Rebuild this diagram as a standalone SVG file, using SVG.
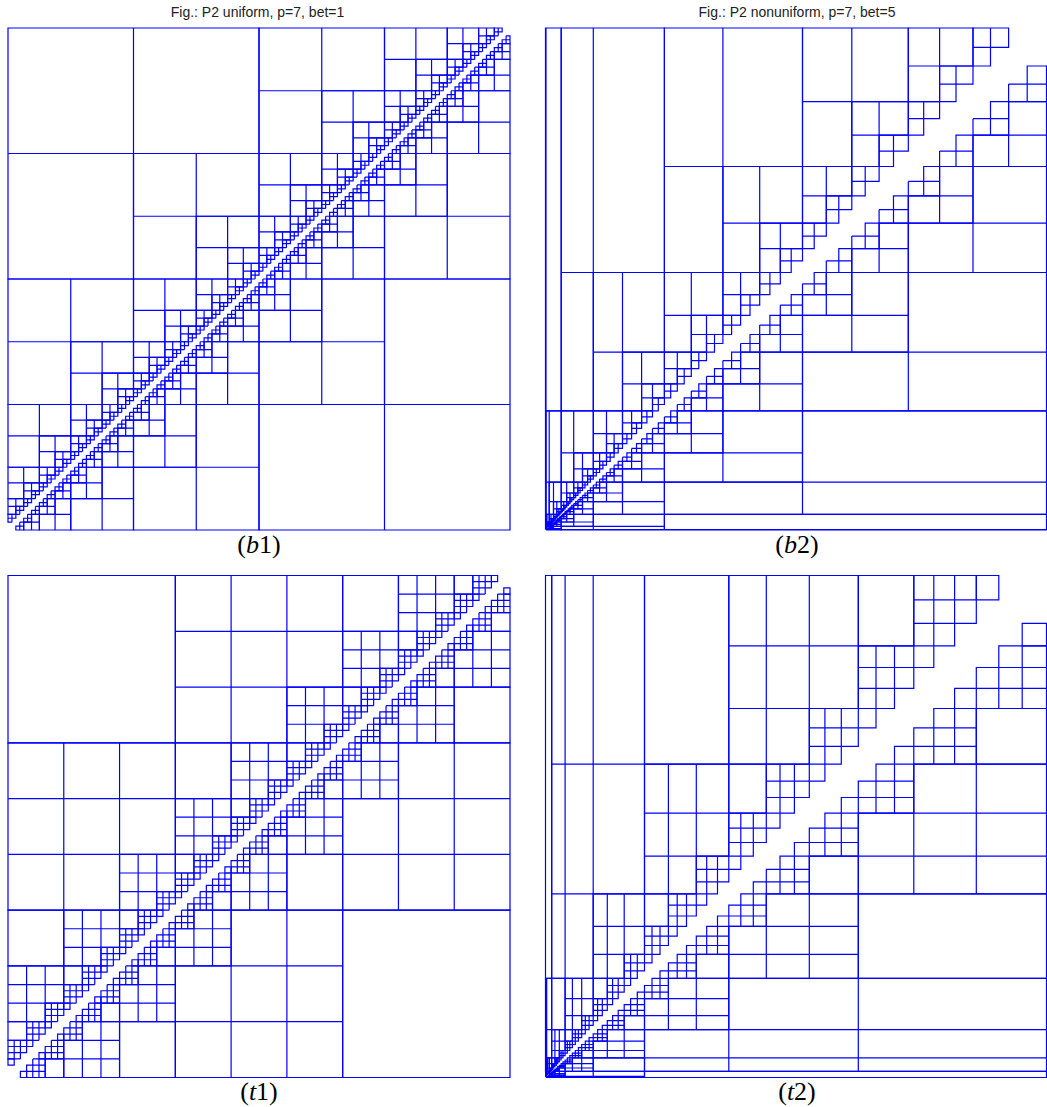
<svg xmlns="http://www.w3.org/2000/svg" width="1047" height="1107" viewBox="0 0 1047 1107">
<style>
.ln{fill:none;stroke:#0000ff;stroke-width:1.2}
.tt{font-family:"Liberation Sans",Arial,sans-serif;font-size:14px;fill:#222}
.lb{font-family:"Liberation Serif","Times New Roman",serif;font-size:26px;fill:#000}
</style>
<defs>
<path id="bL" d="M0 0H1V.5H0ZM.5 0V1M0 .5V1H.5" fill="none" stroke="#0000ff" stroke-width="1.2" vector-effect="non-scaling-stroke"/>
<g id="bO1"><use href="#bL" transform="scale(2)"/></g>
<g id="bO2"><use href="#bL" transform="scale(4)"/><use href="#bO1" transform="translate(2,2)"/></g>
<g id="bO3"><use href="#bL" transform="scale(8)"/><use href="#bO2" transform="translate(4,4)"/></g>
<g id="bO4"><use href="#bL" transform="scale(16)"/><use href="#bO3" transform="translate(8,8)"/></g>
<g id="bO5"><use href="#bL" transform="scale(32)"/><use href="#bO4" transform="translate(16,16)"/></g>
<g id="bO6"><use href="#bL" transform="scale(64)"/><use href="#bO5" transform="translate(32,32)"/></g>
<g id="bD2"><use href="#bO1"/><use href="#bO1" transform="translate(4,4) scale(-1)"/></g>
<g id="bD3"><use href="#bO2"/><use href="#bO2" transform="translate(8,8) scale(-1)"/><use href="#bD2" transform="translate(4,0)"/><use href="#bD2" transform="translate(0,4)"/></g>
<g id="bD4"><use href="#bO3"/><use href="#bO3" transform="translate(16,16) scale(-1)"/><use href="#bD3" transform="translate(8,0)"/><use href="#bD3" transform="translate(0,8)"/></g>
<g id="bD5"><use href="#bO4"/><use href="#bO4" transform="translate(32,32) scale(-1)"/><use href="#bD4" transform="translate(16,0)"/><use href="#bD4" transform="translate(0,16)"/></g>
<g id="bD6"><use href="#bO5"/><use href="#bO5" transform="translate(64,64) scale(-1)"/><use href="#bD5" transform="translate(32,0)"/><use href="#bD5" transform="translate(0,32)"/></g>
<g id="bD7"><use href="#bO6"/><use href="#bO6" transform="translate(128,128) scale(-1)"/><use href="#bD6" transform="translate(64,0)"/><use href="#bD6" transform="translate(0,64)"/></g>
<path id="tG" d="M0 0H3V2H0ZM0 1H3M1 0V3M2 0V3M0 2V3H2" fill="none" stroke="#0000ff" stroke-width="1.2" vector-effect="non-scaling-stroke"/>
<path id="tQ" d="M0 0H1V1H0Z" fill="none" stroke="#0000ff" stroke-width="1.2" vector-effect="non-scaling-stroke"/>
<g id="tO1"><use href="#tG"/></g>
<g id="tO2"><use href="#tG" transform="scale(3)"/><use href="#tO1" transform="translate(6,6)"/></g>
<g id="tO3"><use href="#tG" transform="scale(9)"/><use href="#tO2" transform="translate(18,18)"/></g>
<g id="tD1"><use href="#tQ"/><use href="#tQ" transform="translate(2,2)"/></g>
<g id="tD2"><use href="#tQ" transform="scale(3)"/><use href="#tQ" transform="translate(6,6) scale(3)"/><use href="#tO1" transform="translate(0,3)"/><use href="#tO1" transform="translate(3,0)"/><use href="#tO1" transform="translate(6,9) scale(-1)"/><use href="#tO1" transform="translate(9,6) scale(-1)"/><use href="#tD1" transform="translate(0,6)"/><use href="#tD1" transform="translate(3,3)"/><use href="#tD1" transform="translate(6,0)"/></g>
<g id="tD3"><use href="#tQ" transform="scale(9)"/><use href="#tQ" transform="translate(18,18) scale(9)"/><use href="#tO2" transform="translate(0,9)"/><use href="#tO2" transform="translate(9,0)"/><use href="#tO2" transform="translate(18,27) scale(-1)"/><use href="#tO2" transform="translate(27,18) scale(-1)"/><use href="#tD2" transform="translate(0,18)"/><use href="#tD2" transform="translate(9,9)"/><use href="#tD2" transform="translate(18,0)"/></g>
<g id="tD4"><use href="#tQ" transform="scale(27)"/><use href="#tQ" transform="translate(54,54) scale(27)"/><use href="#tO3" transform="translate(0,27)"/><use href="#tO3" transform="translate(27,0)"/><use href="#tO3" transform="translate(54,81) scale(-1)"/><use href="#tO3" transform="translate(81,54) scale(-1)"/><use href="#tD3" transform="translate(0,54)"/><use href="#tD3" transform="translate(27,27)"/><use href="#tD3" transform="translate(54,0)"/></g>
</defs>
<rect width="1047" height="1107" fill="#fff"/>

<g id="titles">
<text class="tt" x="257.5" y="17" text-anchor="middle">Fig.: P2 uniform, p=7, bet=1</text>
<text class="tt" x="797" y="17" text-anchor="middle">Fig.: P2 nonuniform, p=7, bet=5</text>
</g>

<g id="panel-b1"><use href="#bD7" transform="translate(8,28) scale(3.921875)"/></g>

<g id="panel-t1"><use href="#tD4" transform="translate(8,575.5) scale(6.197531)"/></g>

<g id="panel-b2" class="ln">
<rect x="545.5" y="525" width="4.6" height="5" fill="#0000ff" stroke="none"/>
<path d="M545.9 529.7L550.3 525.3" stroke="#fff" stroke-width=".7"/>
<path d="M545.5 514.3V28H561.2V410.9H545.5M546 28V514.3H545.5M561.2 529.5V530H1046.5V514.3H664.4V530M561.2 529.5H1046.5"/>
<path d="M545.5 529.5V514.3H546V526.3H545.5M546 530H561.2V529.5H549.2V530M546 514.3V410.9H561.2V482.1H546M549.2 410.9V514.3H546M561.2 526.3V529.5H664.4V514.3H593.3V529.5M561.2 526.3H664.4M561.2 410.9V28H664.4V272.5H561.2M593.3 28V410.9H561.2M664.4 482.1V514.3H1046.5V410.9H802.5V514.3M664.4 482.1H1046.5"/>
<path d="M546 526.3V514.3H549.2V522H546M547 514.3V526.3H546M549.2 528.5V529.5H561.2V526.3H553.5V529.5M549.2 528.5H561.2M549.2 514.3V482.1H561.2V501.7H549.2M553.5 482.1V514.3H549.2M561.2 522V526.3H593.3V514.3H573.7V526.3M561.2 522H593.3M561.2 482.1V410.9H593.3V452.9H561.2M573.7 410.9V482.1H561.2M593.3 501.7V514.3H664.4V482.1H622.5V514.3M593.3 501.7H664.4M593.3 410.9V272.5H664.4V352.2H593.3M622.5 272.5V410.9H593.3M664.4 452.9V482.1H802.5V410.9H722.9V482.1M664.4 452.9H802.5M664.4 272.5V28H802.5V166.5H664.4M722.9 28V272.5H664.4M802.5 352.2V410.9H1046.5V272.5H908.3V410.9M802.5 352.2H1046.5"/>
<path d="M546 528.5V526.3H547V527.6H546M546.4 526.3V528.5H546M547 529.1V529.5H549.2V528.5H547.9V529.5M547 529.1H549.2M547 526.3V522H549.2V524.4H547M547.9 522V526.3H547M549.2 527.6V528.5H553.5V526.3H551V528.5M549.2 527.6H553.5M549.2 522V514.3H553.5V518.6H549.2M551 514.3V522H549.2M553.5 524.4V526.3H561.2V522H556.8V526.3M553.5 524.4H561.2M553.5 514.3V501.7H561.2V508.8H553.5M556.8 501.7V514.3H553.5M561.2 518.6V522H573.7V514.3H566.7V522M561.2 518.6H573.7M561.2 501.7V482.1H573.7V493H561.2M566.7 482.1V501.7H561.2M573.7 508.8V514.3H593.3V501.7H582.5V514.3M573.7 508.8H593.3M573.7 482.1V452.9H593.3V468.9H573.7M582.5 452.9V482.1H573.7M593.3 493V501.7H622.5V482.1H606.5V501.7M593.3 493H622.5M593.3 452.9V410.9H622.5V433.7H593.3M606.5 410.9V452.9H593.3M622.5 468.9V482.1H664.4V452.9H641.6V482.1M622.5 468.9H664.4M622.5 410.9V352.2H664.4V383.9H622.5M641.6 352.2V410.9H622.5M664.4 433.7V452.9H722.9V410.9H691.3V452.9M664.4 433.7H722.9M664.4 352.2V272.5H722.9V315.3H664.4M691.3 272.5V352.2H664.4M722.9 383.9V410.9H802.5V352.2H759.7V410.9M722.9 383.9H802.5M722.9 272.5V166.5H802.5V223.1H722.9M759.7 166.5V272.5H722.9M802.5 315.3V352.2H908.3V272.5H851.8V352.2M802.5 315.3H908.3M802.5 166.5V28H908.3V101.7H802.5M851.8 28V166.5H802.5M908.3 223.1V272.5H1046.5V166.5H973V272.5M908.3 223.1H1046.5"/>
<path d="M547.9 526.3V524.4H549.2V525.4H547.9M548.5 524.4V526.3H547.9M549.2 527V527.6H551V526.3H550.1V527.6M549.2 527H551M549.2 524.4V522H551V523.3H549.2M550.1 522V524.4H549.2M551 525.4V526.3H553.5V524.4H552.2V526.3M551 525.4H553.5M551 522V518.6H553.5V520.4H551M552.2 518.6V522H551M553.5 523.3V524.4H556.8V522H555.1V524.4M553.5 523.3H556.8M553.5 518.6V514.3H556.8V516.6H553.5M555.1 514.3V518.6H553.5M556.8 520.4V522H561.2V518.6H558.9V522M556.8 520.4H561.2M556.8 514.3V508.8H561.2V511.7H556.8M558.9 508.8V514.3H556.8M561.2 516.6V518.6H566.7V514.3H563.8V518.6M561.2 516.6H566.7M561.2 508.8V501.7H566.7V505.4H561.2M563.8 501.7V508.8H561.2M566.7 511.7V514.3H573.7V508.8H570V514.3M566.7 511.7H573.7M566.7 501.7V493H573.7V497.6H566.7M570 493V501.7H566.7M573.7 505.4V508.8H582.5V501.7H577.9V508.8M573.7 505.4H582.5M573.7 493V482.1H582.5V487.8H573.7M577.9 482.1V493H573.7M582.5 497.6V501.7H593.3V493H587.6V501.7M582.5 497.6H593.3M582.5 482.1V468.9H593.3V475.8H582.5M587.6 468.9V482.1H582.5M593.3 487.8V493H606.5V482.1H599.6V493M593.3 487.8H606.5M593.3 468.9V452.9H606.5V461.3H593.3M599.6 452.9V468.9H593.3M606.5 475.8V482.1H622.5V468.9H614.1V482.1M606.5 475.8H622.5M606.5 452.9V433.7H622.5V443.7H606.5M614.1 433.7V452.9H606.5M622.5 461.3V468.9H641.6V452.9H631.6V468.9M622.5 461.3H641.6M622.5 433.7V410.9H641.6V422.8H622.5M631.6 410.9V433.7H622.5M641.6 443.7V452.9H664.4V433.7H652.5V452.9M641.6 443.7H664.4M641.6 410.9V383.9H664.4V397.9H641.6M652.5 383.9V410.9H641.6M664.4 422.8V433.7H691.3V410.9H677.3V433.7M664.4 422.8H691.3M664.4 383.9V352.2H691.3V368.7H664.4M677.3 352.2V383.9H664.4M691.3 397.9V410.9H722.9V383.9H706.5V410.9M691.3 397.9H722.9M691.3 352.2V315.3H722.9V334.5H691.3M706.5 315.3V352.2H691.3M722.9 368.7V383.9H759.7V352.2H740.6V383.9M722.9 368.7H759.7M722.9 315.3V272.5H759.7V294.7H722.9M740.6 272.5V315.3H722.9M759.7 334.5V352.2H802.5V315.3H780.3V352.2M759.7 334.5H802.5M759.7 272.5V223.1H802.5V248.7H759.7M780.3 223.1V272.5H759.7M802.5 294.7V315.3H851.8V272.5H826.3V315.3M802.5 294.7H851.8M802.5 223.1V166.5H851.8V195.8H802.5M826.3 166.5V223.1H802.5M851.8 248.7V272.5H908.3V223.1H879.1V272.5M851.8 248.7H908.3M851.8 166.5V101.7H908.3V135.1H851.8M879.1 101.7V166.5H851.8M908.3 195.8V223.1H973V166.5H939.6V223.1M908.3 195.8H973M908.3 101.7V28H973V66H908.3M939.6 28V101.7H908.3M973 135.1V166.5H1046.5V101.7H1008.6V166.5M973 135.1H1046.5"/>
<path d="M549.2 525.4V524.4H550.1V525H549.2M549.6 524.4V525.4H549.2M550.1 524.4V523.3H551V523.9H550.1M550.5 523.3V524.4H550.1M551 523.3V522H552.2V522.6H551M551.6 522V523.3H551M552.2 522V520.4H553.5V521.2H552.2M552.8 520.4V522H552.2M553.5 520.4V518.6H555.1V519.6H553.5M554.3 518.6V520.4H553.5M555.1 518.6V516.6H556.8V517.7H555.1M555.9 516.6V518.6H555.1M556.8 516.6V514.3H558.9V515.5H556.8M557.8 514.3V516.6H556.8M558.9 514.3V511.7H561.2V513H558.9M560 511.7V514.3H558.9M561.2 511.7V508.8H563.8V510.3H561.2M562.4 508.8V511.7H561.2M563.8 508.8V505.4H566.7V507.1H563.8M565.2 505.4V508.8H563.8M566.7 505.4V501.7H570V503.6H566.7M568.3 501.7V505.4H566.7M570 501.7V497.6H573.7V499.7H570M571.8 497.6V501.7H570M573.7 497.6V493H577.9V495.3H573.7M575.7 493V497.6H573.7M577.9 493V487.8H582.5V490.5H577.9M580.1 487.8V493H577.9M582.5 487.8V482.1H587.6V485H582.5M585 482.1V487.8H582.5M587.6 482.1V475.8H593.3V479.1H587.6M590.4 475.8V482.1H587.6M593.3 475.8V468.9H599.6V472.5H593.3M596.3 468.9V475.8H593.3M599.6 468.9V461.3H606.5V465.2H599.6M602.9 461.3V468.9H599.6M606.5 461.3V452.9H614.1V457.2H606.5M610.2 452.9V461.3H606.5M614.1 452.9V443.7H622.5V448.4H614.1M618.2 443.7V452.9H614.1M622.5 443.7V433.7H631.6V438.8H622.5M626.9 433.7V443.7H622.5M631.6 433.7V422.8H641.6V428.4H631.6M636.5 422.8V433.7H631.6M641.6 422.8V410.9H652.5V416.9H641.6M646.9 410.9V422.8H641.6M652.5 410.9V397.9H664.4V404.5H652.5M658.3 397.9V410.9H652.5M664.4 397.9V383.9H677.3V391.1H664.4M670.7 383.9V397.9H664.4M677.3 383.9V368.7H691.3V376.4H677.3M684.2 368.7V383.9H677.3M691.3 368.7V352.2H706.5V360.6H691.3M698.8 352.2V368.7H691.3M706.5 352.2V334.5H722.9V343.5H706.5M714.5 334.5V352.2H706.5M722.9 334.5V315.3H740.6V325.1H722.9M731.6 315.3V334.5H722.9M740.6 315.3V294.7H759.7V305.2H740.6M750 294.7V315.3H740.6M759.7 294.7V272.5H780.3V283.8H759.7M769.9 272.5V294.7H759.7M780.3 272.5V248.7H802.5V260.8H780.3M791.2 248.7V272.5H780.3M802.5 248.7V223.1H826.3V236.1H802.5M814.2 223.1V248.7H802.5M826.3 223.1V195.8H851.8V209.7H826.3M838.8 195.8V223.1H826.3M851.8 195.8V166.5H879.1V181.4H851.8M865.2 166.5V195.8H851.8M879.1 166.5V135.1H908.3V151.1H879.1M893.5 135.1V166.5H879.1M908.3 135.1V101.7H939.6V118.7H908.3M923.7 101.7V135.1H908.3M939.6 101.7V66H973V84.1H939.6M956 66V101.7H939.6M973 66V28H1008.6V47.3H973M990.5 28V66H973"/>
<path d="M550.1 525.9V526.3H551V525.4H550.5V526.3M550.1 525.9H551M551 525V525.4H552.2V524.4H551.6V525.4M551 525H552.2M552.2 523.9V524.4H553.5V523.3H552.8V524.4M552.2 523.9H553.5M553.5 522.6V523.3H555.1V522H554.3V523.3M553.5 522.6H555.1M555.1 521.2V522H556.8V520.4H555.9V522M555.1 521.2H556.8M556.8 519.6V520.4H558.9V518.6H557.8V520.4M556.8 519.6H558.9M558.9 517.7V518.6H561.2V516.6H560V518.6M558.9 517.7H561.2M561.2 515.5V516.6H563.8V514.3H562.4V516.6M561.2 515.5H563.8M563.8 513V514.3H566.7V511.7H565.2V514.3M563.8 513H566.7M566.7 510.3V511.7H570V508.8H568.3V511.7M566.7 510.3H570M570 507.1V508.8H573.7V505.4H571.8V508.8M570 507.1H573.7M573.7 503.6V505.4H577.9V501.7H575.7V505.4M573.7 503.6H577.9M577.9 499.7V501.7H582.5V497.6H580.1V501.7M577.9 499.7H582.5M582.5 495.3V497.6H587.6V493H585V497.6M582.5 495.3H587.6M587.6 490.5V493H593.3V487.8H590.4V493M587.6 490.5H593.3M593.3 485V487.8H599.6V482.1H596.3V487.8M593.3 485H599.6M599.6 479.1V482.1H606.5V475.8H602.9V482.1M599.6 479.1H606.5M606.5 472.5V475.8H614.1V468.9H610.2V475.8M606.5 472.5H614.1M614.1 465.2V468.9H622.5V461.3H618.2V468.9M614.1 465.2H622.5M622.5 457.2V461.3H631.6V452.9H626.9V461.3M622.5 457.2H631.6M631.6 448.4V452.9H641.6V443.7H636.5V452.9M631.6 448.4H641.6M641.6 438.8V443.7H652.5V433.7H646.9V443.7M641.6 438.8H652.5M652.5 428.4V433.7H664.4V422.8H658.3V433.7M652.5 428.4H664.4M664.4 416.9V422.8H677.3V410.9H670.7V422.8M664.4 416.9H677.3M677.3 404.5V410.9H691.3V397.9H684.2V410.9M677.3 404.5H691.3M691.3 391.1V397.9H706.5V383.9H698.8V397.9M691.3 391.1H706.5M706.5 376.4V383.9H722.9V368.7H714.5V383.9M706.5 376.4H722.9M722.9 360.6V368.7H740.6V352.2H731.6V368.7M722.9 360.6H740.6M740.6 343.5V352.2H759.7V334.5H750V352.2M740.6 343.5H759.7M759.7 325.1V334.5H780.3V315.3H769.9V334.5M759.7 325.1H780.3M780.3 305.2V315.3H802.5V294.7H791.2V315.3M780.3 305.2H802.5M802.5 283.8V294.7H826.3V272.5H814.2V294.7M802.5 283.8H826.3M826.3 260.8V272.5H851.8V248.7H838.8V272.5M826.3 260.8H851.8M851.8 236.1V248.7H879.1V223.1H865.2V248.7M851.8 236.1H879.1M879.1 209.7V223.1H908.3V195.8H893.5V223.1M879.1 209.7H908.3M908.3 181.4V195.8H939.6V166.5H923.7V195.8M908.3 181.4H939.6M939.6 151.1V166.5H973V135.1H956V166.5M939.6 151.1H973M973 118.7V135.1H1008.6V101.7H990.5V135.1M973 118.7H1008.6M1008.6 84.1V101.7H1046.5V66H1027.2V101.7M1008.6 84.1H1046.5"/>
</g>

<g id="panel-t2" class="ln">
<rect x="545.5" y="1072.5" width="5" height="5" fill="#0000ff" stroke="none"/>
<path d="M545.9 1077.1L550.6 1072.4" stroke="#fff" stroke-width=".7"/>
<path d="M545.5 575.5H551.7V978.3H545.5ZM644.5 1071.3H1046.5V1077.5H644.5Z"/>
<path d="M551.7 978.3H565.1V1029.7H551.7ZM593.2 1057.9H644.5V1071.3H593.2ZM644.5 575.5H728.8V764.1H644.5ZM858.3 893.8H1046.5V978.3H858.3Z"/>
<path d="M545.5 1057.9H551.7V978.3H545.5V1071.3H546.7V978.3M545.6 978.3V1071.3M545.5 1029.7H551.7M565.1 1077.5V1071.3H644.5V1077.5H551.7V1076.3H644.5M644.5 1077.4H551.7M593.2 1077.5V1071.3M551.7 893.8H644.5V575.5H551.7V978.3H593.2V575.5M565.1 575.5V978.3M551.7 764.1H644.5M728.8 1071.3V978.3H1046.5V1071.3H644.5V1029.7H1046.5M1046.5 1057.9H644.5M858.3 1071.3V978.3"/>
<path d="M551.7 1057.9H554.9V1063.7H551.7ZM559.3 1068H565.1V1071.3H559.3ZM565.1 1029.7H572.4V1041.2H565.1ZM581.7 1050.5H593.2V1057.9H581.7ZM593.2 978.3H607.3V998.6H593.2ZM624.2 1015.6H644.5V1029.7H624.2ZM644.5 893.8H668.4V926.4H644.5ZM696.3 954.4H728.8V978.3H696.3ZM728.8 764.1H766.3V813.2H728.8ZM809.3 856.2H858.3V893.8H809.3ZM858.3 575.5H913.8V645.8H858.3ZM976.3 708.5H1046.5V764.1H976.3Z"/>
<path d="M545.6 1075.2H546.7V1071.3H545.6V1076.3H546.1V1071.3M545.7 1071.3V1076.3M545.6 1073.6H546.7M547.8 1077.4V1076.3H551.7V1077.4H546.7V1076.9H551.7M551.7 1077.3H546.7M549.4 1077.4V1076.3M546.7 1068H551.7V1057.9H546.7V1071.3H549.4V1057.9M547.8 1057.9V1071.3M546.7 1063.7H551.7M554.9 1076.3V1071.3H565.1V1076.3H551.7V1073.6H565.1M565.1 1075.2H551.7M559.3 1076.3V1071.3M551.7 1050.5H565.1V1029.7H551.7V1057.9H559.3V1029.7M554.9 1029.7V1057.9M551.7 1041.2H565.1M572.4 1071.3V1057.9H593.2V1071.3H565.1V1063.7H593.2M593.2 1068H565.1M581.7 1071.3V1057.9M565.1 1015.6H593.2V978.3H565.1V1029.7H581.7V978.3M572.4 978.3V1029.7M565.1 998.6H593.2M607.3 1057.9V1029.7H644.5V1057.9H593.2V1041.2H644.5M644.5 1050.5H593.2M624.2 1057.9V1029.7M593.2 954.4H644.5V893.8H593.2V978.3H624.2V893.8M607.3 893.8V978.3M593.2 926.4H644.5M668.4 1029.7V978.3H728.8V1029.7H644.5V998.6H728.8M728.8 1015.6H644.5M696.3 1029.7V978.3M644.5 856.2H728.8V764.1H644.5V893.8H696.3V764.1M668.4 764.1V893.8M644.5 813.2H728.8M766.3 978.3V893.8H858.3V978.3H728.8V926.4H858.3M858.3 954.4H728.8M809.3 978.3V893.8M728.8 708.5H858.3V575.5H728.8V764.1H809.3V575.5M766.3 575.5V764.1M728.8 645.8H858.3M913.8 893.8V764.1H1046.5V893.8H858.3V813.2H1046.5M1046.5 856.2H858.3M976.3 893.8V764.1"/>
<path d="M547.8 1073H549.4V1071.3H547.8V1073.6H548.8V1071.3M548.2 1071.3V1073.6M547.8 1072.2H549.4M550.1 1075.2V1073.6H551.7V1075.2H549.4V1074.2H551.7M551.7 1074.8H549.4M550.8 1075.2V1073.6M549.4 1070.3H551.7V1068H549.4V1071.3H550.8V1068M550.1 1068V1071.3M549.4 1069.3H551.7M552.7 1073.6V1071.3H554.9V1073.6H551.7V1072.2H554.9M554.9 1073H551.7M553.7 1073.6V1071.3M551.7 1066.7H554.9V1063.7H551.7V1068H553.7V1063.7M552.7 1063.7V1068M551.7 1065.3H554.9M556.3 1071.3V1068H559.3V1071.3H554.9V1069.3H559.3M559.3 1070.3H554.9M557.7 1071.3V1068M554.9 1061.9H559.3V1057.9H554.9V1063.7H557.7V1057.9M556.3 1057.9V1063.7M554.9 1060H559.3M561.1 1068V1063.7H565.1V1068H559.3V1065.3H565.1M565.1 1066.7H559.3M563 1068V1063.7M559.3 1055.6H565.1V1050.5H559.3V1057.9H563V1050.5M561.1 1050.5V1057.9M559.3 1053.2H565.1M567.3 1063.7V1057.9H572.4V1063.7H565.1V1060H572.4M572.4 1061.9H565.1M569.8 1063.7V1057.9M565.1 1047.6H572.4V1041.2H565.1V1050.5H569.8V1041.2M567.3 1041.2V1050.5M565.1 1044.5H572.4M575.3 1057.9V1050.5H581.7V1057.9H572.4V1053.2H581.7M581.7 1055.6H572.4M578.4 1057.9V1050.5M572.4 1037.6H581.7V1029.7H572.4V1041.2H578.4V1029.7M575.3 1029.7V1041.2M572.4 1033.8H581.7M585.3 1050.5V1041.2H593.2V1050.5H581.7V1044.5H593.2M593.2 1047.6H581.7M589.1 1050.5V1041.2M581.7 1025.3H593.2V1015.6H581.7V1029.7H589.1V1015.6M585.3 1015.6V1029.7M581.7 1020.6H593.2M597.6 1041.2V1029.7H607.3V1041.2H593.2V1033.8H607.3M607.3 1037.6H593.2M602.3 1041.2V1029.7M593.2 1010.3H607.3V998.6H593.2V1015.6H602.3V998.6M597.6 998.6V1015.6M593.2 1004.6H607.3M612.6 1029.7V1015.6H624.2V1029.7H607.3V1020.6H624.2M624.2 1025.3H607.3M618.2 1029.7V1015.6M607.3 992.2H624.2V978.3H607.3V998.6H618.2V978.3M612.6 978.3V998.6M607.3 985.5H624.2M630.6 1015.6V998.6H644.5V1015.6H624.2V1004.6H644.5M644.5 1010.3H624.2M637.3 1015.6V998.6M624.2 970.8H644.5V954.4H624.2V978.3H637.3V954.4M630.6 954.4V978.3M624.2 962.8H644.5M652 998.6V978.3H668.4V998.6H644.5V985.5H668.4M668.4 992.2H644.5M660 998.6V978.3M644.5 945.5H668.4V926.4H644.5V954.4H660V926.4M652 926.4V954.4M644.5 936.2H668.4M677.2 978.3V954.4H696.3V978.3H668.4V962.8H696.3M696.3 970.8H668.4M686.5 978.3V954.4M668.4 916H696.3V893.8H668.4V926.4H686.5V893.8M677.2 893.8V926.4M668.4 905.2H696.3M706.7 954.4V926.4H728.8V954.4H696.3V936.2H728.8M728.8 945.5H696.3M717.5 954.4V926.4M696.3 881.9H728.8V856.2H696.3V893.8H717.5V856.2M706.7 856.2V893.8M696.3 869.3H728.8M740.8 926.4V893.8H766.3V926.4H728.8V905.2H766.3M766.3 916H728.8M753.3 926.4V893.8M728.8 842.5H766.3V813.2H728.8V856.2H753.3V813.2M740.8 813.2V856.2M728.8 828.2H766.3M780 893.8V856.2H809.3V893.8H766.3V869.3H809.3M809.3 881.9H766.3M794.4 893.8V856.2M766.3 797.5H809.3V764.1H766.3V813.2H794.4V764.1M780 764.1V813.2M766.3 781.2H809.3M824.9 856.2V813.2H858.3V856.2H809.3V828.2H858.3M858.3 842.5H809.3M841.3 856.2V813.2M809.3 746.3H858.3V708.5H809.3V764.1H841.3V708.5M824.9 708.5V764.1M809.3 727.8H858.3M876 813.2V764.1H913.8V813.2H858.3V781.2H913.8M913.8 797.5H858.3M894.5 813.2V764.1M858.3 688.4H913.8V645.8H858.3V708.5H894.5V645.8M876 645.8V708.5M858.3 667.5H913.8M933.8 764.1V708.5H976.3V764.1H913.8V727.8H976.3M976.3 746.3H913.8M954.6 764.1V708.5M913.8 623.3H976.3V575.5H913.8V645.8H954.6V575.5M933.8 575.5V645.8M913.8 599.8H976.3M998.8 708.5V645.8H1046.5V708.5H976.3V667.5H1046.5M1046.5 688.4H976.3M1022.2 708.5V645.8"/>
<path d="M550.1 1071.3V1072.2H549.4M550.8 1073.6V1073H551.7M552.7 1068V1069.3H551.7M553.7 1071.3V1070.3H554.9M556.3 1063.7V1065.3H554.9M557.7 1068V1066.7H559.3M561.1 1057.9V1060H559.3M563 1063.7V1061.9H565.1M567.3 1050.5V1053.2H565.1M569.8 1057.9V1055.6H572.4M575.3 1041.2V1044.5H572.4M578.4 1050.5V1047.6H581.7M585.3 1029.7V1033.8H581.7M589.1 1041.2V1037.6H593.2M597.6 1015.6V1020.6H593.2M602.3 1029.7V1025.3H607.3M612.6 998.6V1004.6H607.3M618.2 1015.6V1010.3H624.2M630.6 978.3V985.5H624.2M637.3 998.6V992.2H644.5M652 954.4V962.8H644.5M660 978.3V970.8H668.4M677.2 926.4V936.2H668.4M686.5 954.4V945.5H696.3M706.7 893.8V905.2H696.3M717.5 926.4V916H728.8M740.8 856.2V869.3H728.8M753.3 893.8V881.9H766.3M780 813.2V828.2H766.3M794.4 856.2V842.5H809.3M824.9 764.1V781.2H809.3M841.3 813.2V797.5H858.3M876 708.5V727.8H858.3M894.5 764.1V746.3H913.8M933.8 645.8V667.5H913.8M954.6 708.5V688.4H976.3M976.3 575.5H998.8V599.8H976.3ZM1022.2 623.3H1046.5V645.8H1022.2Z"/>
</g>

<g id="labels">
<text class="lb" x="259" y="553" text-anchor="middle">(<tspan font-style="italic">b</tspan>1)</text>
<text class="lb" x="797" y="553" text-anchor="middle">(<tspan font-style="italic">b</tspan>2)</text>
<text class="lb" x="259" y="1100" text-anchor="middle">(<tspan font-style="italic">t</tspan>1)</text>
<text class="lb" x="797" y="1100" text-anchor="middle">(<tspan font-style="italic">t</tspan>2)</text>
</g>
</svg>
